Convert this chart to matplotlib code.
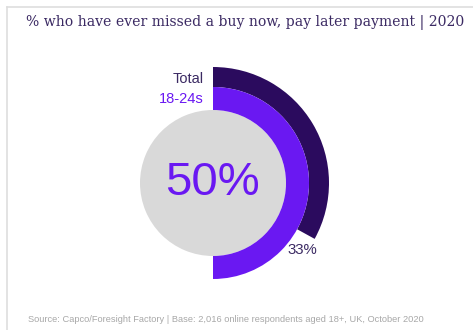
import matplotlib
matplotlib.use("Agg")
import matplotlib.pyplot as plt

# share who have ever missed a BNPL payment
groups = ["Total", "18-24s"]
shares = [33, 50]
ring_colors = ["#2b0b5e", "#6a18f2"]
label_colors = ["#3b2a63", "#6a18f2"]

title = "% who have ever missed a buy now, pay later payment | 2020"
source = ("Source: Capco/Foresight Factory | Base: 2,016 online respondents "
          "aged 18+, UK, October 2020")

W, H = 473, 330
fig = plt.figure(figsize=(W / 100, H / 100), dpi=100)
fig.patch.set_facecolor("white")

# card border (top + left)
fig.add_artist(plt.Line2D([7 / W, 1], [1 - 7 / H, 1 - 7 / H], color="#dedede", lw=1.2))
fig.add_artist(plt.Line2D([7 / W, 7 / W], [0, 1 - 7 / H], color="#dedede", lw=1.2))

fig.text(245 / W, 1 - 23 / H, title, ha="center", va="center",
         family="DejaVu Serif", fontsize=10.05, color="#3b2a63")
fig.text(28 / W, 1 - 320 / H, source, ha="left", va="center",
         family="Liberation Sans", fontsize=6.7, color="#a8a8a8")

# donut axes centred at pixel (213, 183), 1 data unit = 100 px
cx, cy, half = 213, 183, 125
ax = fig.add_axes([(cx - half) / W, (H - cy - half) / H, 2 * half / W, 2 * half / H])
ax.set_aspect("equal")
ax.axis("off")

r_core = 0.73
radii = [1.16, 0.96]
widths = [0.20, 0.23]

ax.pie([1], radius=r_core, colors=["#d9d9d9"], startangle=90)
for val, r, w, c in zip(shares, radii, widths, ring_colors):
    ax.pie([val, 100 - val], radius=r, colors=[c, "none"], startangle=90,
           counterclock=False, wedgeprops=dict(width=w, linewidth=0))
ax.set_xlim(-1.25, 1.25)
ax.set_ylim(-1.25, 1.25)

for g, r, c in zip(groups, [1.04, 0.84], label_colors):
    ax.text(-0.09, r, g, ha="right", va="center", family="Liberation Sans",
            fontsize=10.5, color=c)

ax.text(-0.01, 0.0, f"{shares[1]}%", ha="center", va="center",
        family="Liberation Sans", fontsize=34, color=ring_colors[1])
ax.text(0.89, -0.67, f"{shares[0]}%", ha="center", va="center",
        family="Liberation Sans", fontsize=10.8, color="#3b2a63")

fig.savefig("out.png", dpi=100)
